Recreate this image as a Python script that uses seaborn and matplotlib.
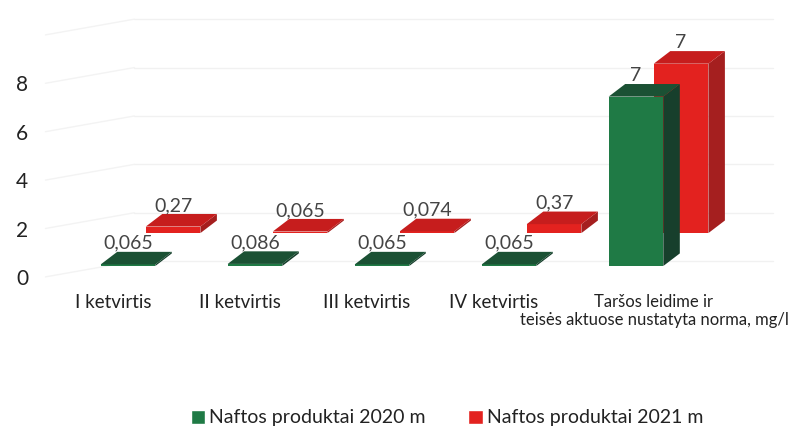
import matplotlib
matplotlib.use("Agg")
import matplotlib.pyplot as plt
import matplotlib.transforms as mtransforms
from matplotlib.patches import Polygon, Patch
import seaborn as sns

# duomenys
categories = ["I ketvirtis", "II ketvirtis", "III ketvirtis", "IV ketvirtis",
              "Taršos leidime ir\nteisės aktuose nustatyta norma, mg/l"]
values_2020 = [0.065, 0.086, 0.065, 0.065, 7]
values_2021 = [0.27, 0.065, 0.074, 0.37, 7]
series_names = ["Naftos produktai 2020 m", "Naftos produktai 2021 m"]
y_ticks = [0, 2, 4, 6, 8]
wall_levels = [0, 2, 4, 6, 8, 10]

# spalvos: priekis, šonas, viršus
green = ("#1f7a45", "#173f2c", "#1b5134")
red = ("#e3221f", "#a51f1f", "#c61d1d")

# pseudo 3D gylis (duomenų vienetais)
DEPTH_X, DEPTH_Y = 0.13, 0.52
RED_DX, RED_DY = 0.355, 1.36
WALL_DY = 0.2

sns.set_style("white")
plt.rcParams['font.family'] = ['Lato', 'DejaVu Sans']

fig = plt.figure(figsize=(7.93, 4.26), dpi=100)
ax = fig.add_axes([64.5 / 793, 160 / 426, 635 / 793, 242 / 426])


def add_faces(bar, colors, z):
    x0, y0 = bar.get_x(), bar.get_y()
    w, h = bar.get_width(), bar.get_height()
    side = [(x0 + w, y0), (x0 + w + DEPTH_X, y0 + DEPTH_Y),
            (x0 + w + DEPTH_X, y0 + h + DEPTH_Y), (x0 + w, y0 + h)]
    top = [(x0, y0 + h), (x0 + DEPTH_X, y0 + h + DEPTH_Y),
           (x0 + w + DEPTH_X, y0 + h + DEPTH_Y), (x0 + w, y0 + h)]
    ax.add_patch(Polygon(side, closed=True, fc=colors[1], ec='none', zorder=z, clip_on=False))
    ax.add_patch(Polygon(top, closed=True, fc=colors[2], ec='none', zorder=z, clip_on=False))
    bar.set_zorder(z)
    bar.set_clip_on(False)


def label_bar(bar, value, z):
    x = bar.get_x() + bar.get_width() / 2
    y = bar.get_y() + bar.get_height() + DEPTH_Y
    ax.text(x, y, f"{value:g}".replace('.', ','), ha='center', va='bottom',
            fontsize=14, color='#444444', zorder=z + 1)


# galinė siena su tinkleliu
for v in wall_levels:
    ax.plot([0.05, 5.08], [v + WALL_DY, v + WALL_DY], color='#f1f1f1', lw=1,
            zorder=0, clip_on=False)
    ax.plot([-0.65, 0.05], [v - 0.45, v + WALL_DY], color='#f3f3f3', lw=1,
            zorder=0, clip_on=False)

# 2021 m. (galinė eilė)
sns.barplot(x=categories, y=values_2021, color=red[0], saturation=1, width=0.43,
            linewidth=0, ax=ax)
red_bars = list(ax.patches)
for bar, v in zip(red_bars, values_2021):
    bar.set_x(bar.get_x() + RED_DX)
    bar.set_y(bar.get_y() + RED_DY)
    add_faces(bar, red, 2)
    label_bar(bar, v, 2)

# 2020 m. (priekinė eilė)
sns.barplot(x=categories, y=values_2020, color=green[0], saturation=1, width=0.43,
            linewidth=0, ax=ax)
green_bars = [p for p in ax.patches if p not in red_bars
              and p.get_facecolor()[:3] == matplotlib.colors.to_rgb(green[0])]
for bar, v in zip(green_bars, values_2020):
    add_faces(bar, green, 4)
    label_bar(bar, v, 4)

ax.set_xlim(-0.5, 4.5)
ax.set_ylim(0, 10)
ax.set_yticks(y_ticks)
ax.set_yticklabels([str(t) for t in y_ticks])
ax.set_xticks(range(len(categories)))
ax.set_xticklabels(categories)
ax.tick_params(axis='y', length=0, pad=26, labelsize=15, labelcolor='#222222')
ax.tick_params(axis='x', length=0, pad=20, labelsize=13.5, labelcolor='#222222')
ax.set_xlabel('')
ax.set_ylabel('')
for s in ax.spines.values():
    s.set_visible(False)
ax.grid(False)

drop = mtransforms.ScaledTranslation(0, -11 / 100, fig.dpi_scale_trans)
for lab in ax.get_yticklabels():
    lab.set_transform(lab.get_transform() + drop)

xticklabels = ax.get_xticklabels()
for i, lab in enumerate(xticklabels):
    dx = -15 / 100
    if i == len(categories) - 1:
        dx = 18 / 100
        lab.set_fontsize(12)
        lab.set_multialignment('center')
    lab.set_transform(lab.get_transform() + mtransforms.ScaledTranslation(dx, 0, fig.dpi_scale_trans))
    lab.set_va('top')

handles = [Patch(facecolor=green[0], label=series_names[0]),
           Patch(facecolor=red[0], label=series_names[1])]
fig.legend(handles=handles, loc='center', bbox_to_anchor=(447 / 793, 1 - 418 / 426),
           ncol=2, frameon=False, fontsize=14, handlelength=0.75, handleheight=0.75,
           handletextpad=0.2, columnspacing=2.2, labelcolor='#222222')

fig.savefig('out.png', dpi=100)
